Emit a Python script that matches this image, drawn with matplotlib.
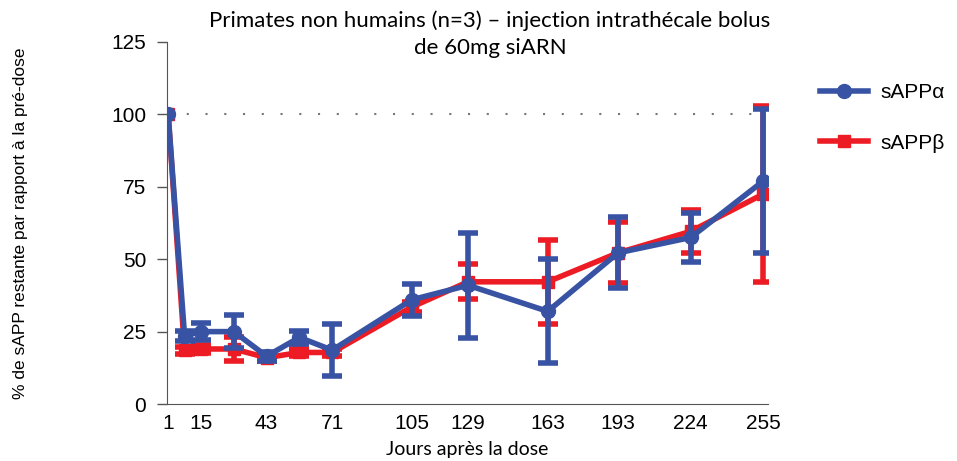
import numpy as np
import matplotlib.pyplot as plt
from matplotlib.lines import Line2D

# days after dose
days = [1, 8, 15, 29, 43, 57, 71, 105, 129, 163, 193, 224, 255]
tick_days = [1, 15, 43, 71, 105, 129, 163, 193, 224, 255]

# sAPP alpha (% of pre-dose) and error (no error bar at day 1)
alpha_mean = [100, 23.5, 25, 25, 16.5, 23, 18.6, 36, 41, 32, 52.2, 57.5, 77]
alpha_err = [np.nan, 1.8, 2.9, 5.6, 1.5, 2.2, 8.9, 5.5, 18.1, 18, 12.3, 8.6, 25]

# sAPP beta (% of pre-dose) and error
beta_mean = [100, 18.5, 19, 19, 16, 17.8, 17.8, 33.5, 42.2, 42.2, 52.2, 59.6, 72.5]
beta_err = [np.nan, 1.2, 1.3, 4.3, 1.2, 1.3, 1.3, 1.8, 6, 14.5, 10.5, 7.5, 30.5]

blue = '#3953a4'
red = '#ed1c24'

figure = plt.figure(figsize=(9.57, 4.61), dpi=100)
axis = figure.add_axes([0.1745, 0.1236, 0.628, 0.7853])

axis.plot([1, 255], [100, 100], linestyle=(0, (1, 8)), color='#777777', linewidth=1.5, zorder=1)

axis.errorbar(days, beta_mean, yerr=beta_err, color=red, linewidth=4, marker='s', markersize=9,
              elinewidth=4, capsize=7.5, capthick=4, zorder=2)
axis.errorbar(days, alpha_mean, yerr=alpha_err, color=blue, linewidth=4, marker='o', markersize=10,
              elinewidth=4, capsize=7.5, capthick=4, zorder=3)

axis.set_xlim(0.5, 257)
axis.set_ylim(0, 125)
axis.set_yticks([0, 25, 50, 75, 100, 125])
axis.set_xticks(tick_days)
axis.tick_params(axis='y', labelsize=15, length=7, width=1, color='#555555', pad=8)
axis.tick_params(axis='x', labelsize=15, length=0, pad=7)
for label in axis.get_xticklabels() + axis.get_yticklabels():
	label.set_family('Liberation Sans')
axis.spines['top'].set_visible(False)
axis.spines['right'].set_visible(False)
axis.spines['left'].set_color('#555555')
axis.spines['bottom'].set_color('#555555')

axis.set_xlabel('Jours après la dose', fontsize=14, family='Lato', labelpad=6)
axis.set_ylabel('% de sAPP restante par rapport à la pré-dose', fontsize=12.5, family='Liberation Sans', labelpad=60)

figure.text(0.512, 0.926, 'Primates non humains (n=3) – injection intrathécale bolus\nde 60mg siARN',
            ha='center', va='center', fontsize=16, family='Lato', linespacing=1.42)

handles = [Line2D([], [], color=blue, linewidth=4, marker='o', markersize=10),
           Line2D([], [], color=red, linewidth=4, marker='s', markersize=9)]
figure.legend(handles, ['sAPPα', 'sAPPβ'], loc='upper left', bbox_to_anchor=(0.837, 0.86),
              frameon=False, prop={'family': 'Liberation Sans', 'size': 15},
              handlelength=2.3, handletextpad=0.6, labelspacing=1.5)

figure.savefig('out.png', dpi=100)
